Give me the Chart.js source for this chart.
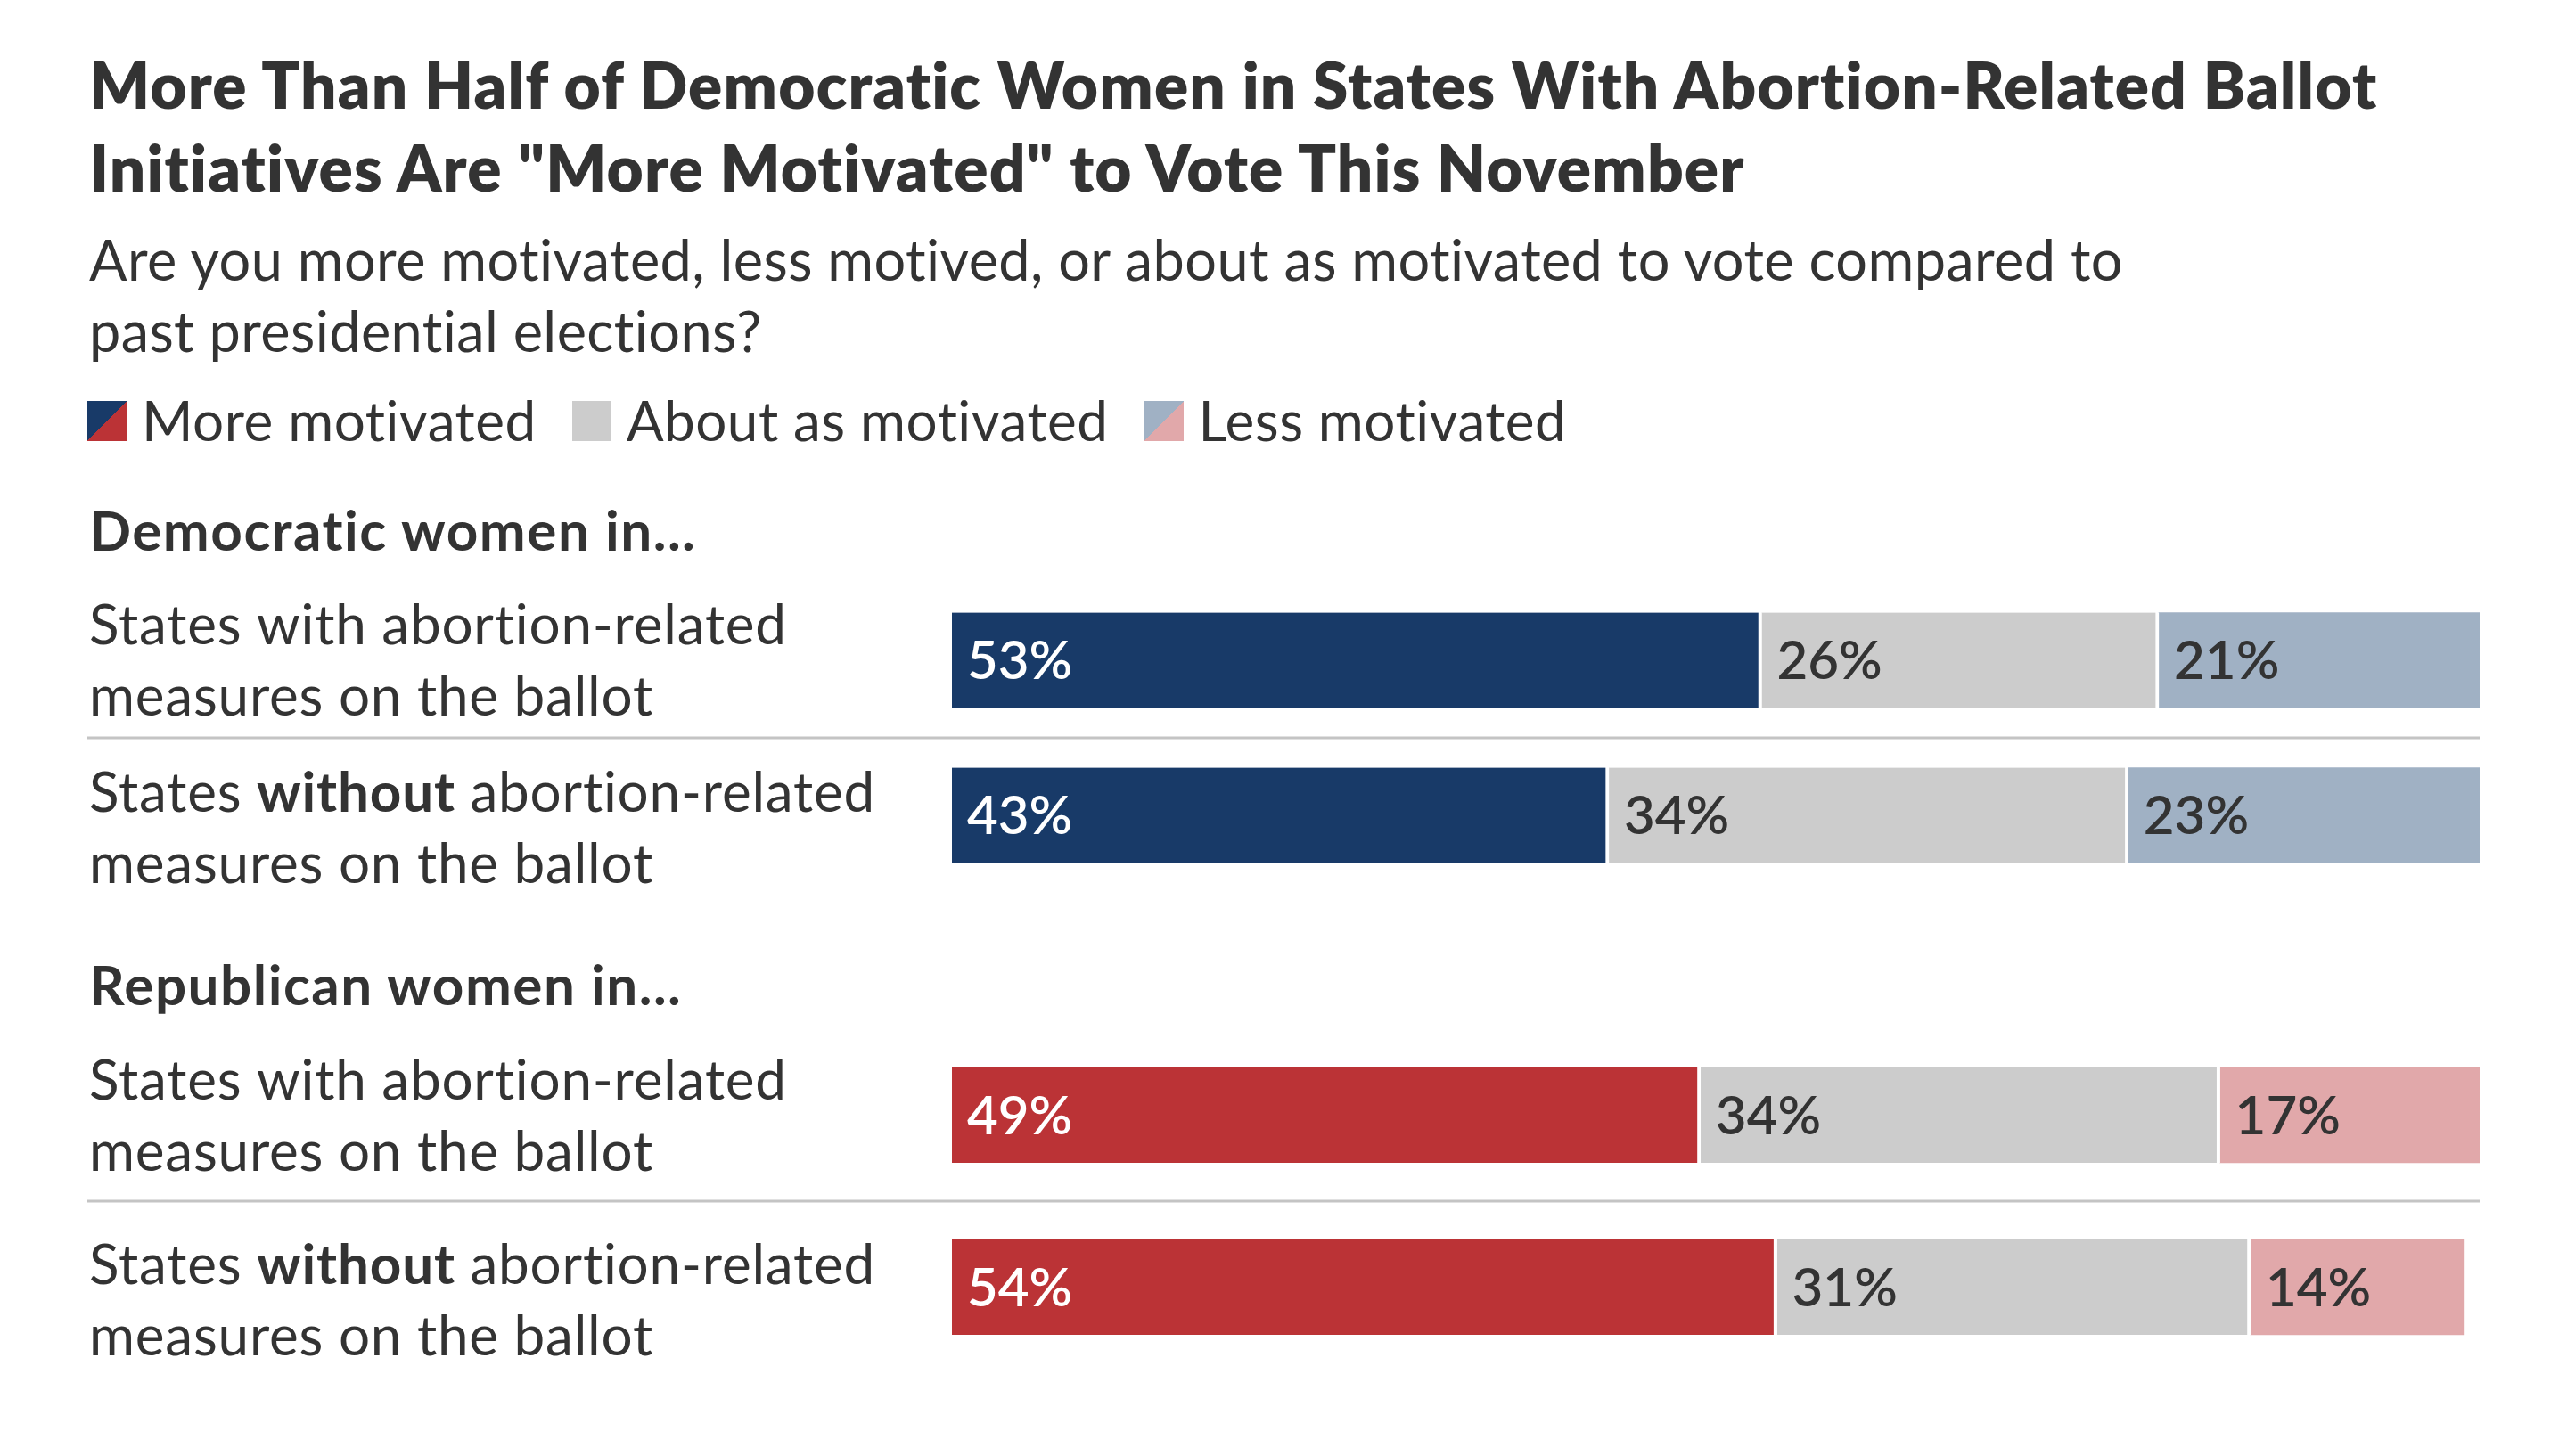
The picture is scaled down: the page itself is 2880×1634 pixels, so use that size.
<!DOCTYPE html>
<html>
<head>
<meta charset="utf-8">
<script src="https://cdn.jsdelivr.net/npm/chart.js@4.4.1/dist/chart.umd.min.js"></script>
<style>
  html, body { margin: 0; padding: 0; background: #fff; }
  body { width: 2880px; height: 1634px; position: relative; overflow: hidden; font-family: Lato, "Noto Sans", sans-serif; color: #333; }
  .title { position: absolute; left: 100px; top: 48px; font-size: 71px; line-height: 93px; font-weight: 800; letter-spacing: 1.2px; white-space: nowrap; }
  .subtitle { position: absolute; left: 100px; top: 251px; font-size: 63px; line-height: 80px; font-weight: 400; letter-spacing: 0.4px; white-space: nowrap; }
  .legend { position: absolute; left: 98px; top: 440px; font-size: 62px; line-height: 62px; letter-spacing: 0.5px; display: flex; white-space: nowrap; }
  .legend .item { margin-right: 40px; }
  .legend .sw { display: inline-block; width: 44px; height: 45px; margin-right: 17px; vertical-align: baseline; }
  .group { position: absolute; left: 100px; font-size: 62px; line-height: 62px; font-weight: 700; letter-spacing: 1.5px; white-space: nowrap; }
  canvas { position: absolute; left: 0; }
</style>
</head>
<body>
<div class="title">More Than Half of Democratic Women in States With Abortion-Related Ballot<br>Initiatives Are "More Motivated" to Vote This November</div>
<div class="subtitle">Are you more motivated, less motived, or about as motivated to vote compared to<br>past presidential elections?</div>
<div class="legend" id="legend"></div>
<div class="group" id="g0" style="top:563px"></div>
<div class="group" id="g1" style="top:1073px"></div>
<canvas id="dem" width="2880" height="348" style="top:654px"></canvas>
<canvas id="rep" width="2880" height="386" style="top:1155px"></canvas>
<script>
// series names and group headers
let series = ["More motivated", "About as motivated", "Less motivated"]
let group_names = ["Democratic women in...", "Republican women in..."]

// row labels, **word** is drawn bold
let row_labels = [
    ["States with abortion-related", "measures on the ballot"],
    ["States **without** abortion-related", "measures on the ballot"]
]

// values in percent
let dem_more = [53, 43]
let dem_about = [26, 34]
let dem_less = [21, 23]
let rep_more = [49, 54]
let rep_about = [34, 31]
let rep_less = [17, 14]

let navy = "#183a68"
let red = "#bb3336"
let gray = "#cccccc"
let light_blue = "#a0b1c4"
let pink = "#e1a8aa"

// legend
let legend = document.getElementById("legend")
let swatches = [
    "linear-gradient(to bottom right, " + navy + " 50%, " + red + " 50%)",
    gray,
    "linear-gradient(to bottom right, " + light_blue + " 50%, " + pink + " 50%)"
]
for (let i = 0; i < series.length; i++) {
    let item = document.createElement("span")
    item.className = "item"
    let sw = document.createElement("span")
    sw.className = "sw"
    sw.style.background = swatches[i]
    item.appendChild(sw)
    item.appendChild(document.createTextNode(series[i]))
    legend.appendChild(item)
}
document.getElementById("g0").textContent = group_names[0]
document.getElementById("g1").textContent = group_names[1]

let font_family = "Lato, 'Noto Sans', sans-serif"

// draws the row labels, the separator line and the values inside the bars
let label_plugin = {
    id: "labels",
    afterDatasetsDraw(chart) {
        let ctx = chart.ctx
        let y_scale = chart.scales.y
        let area = chart.chartArea
        ctx.save()

        // separator between the two rows
        let y_mid = (y_scale.getPixelForValue(0) + y_scale.getPixelForValue(1)) / 2
        ctx.strokeStyle = "#c4c4c4"
        ctx.lineWidth = 3
        ctx.beginPath()
        ctx.moveTo(98, y_mid)
        ctx.lineTo(area.right, y_mid)
        ctx.stroke()

        // row labels (the second row sits a little lower, under the line)
        ctx.fillStyle = "#333"
        ctx.textBaseline = "alphabetic"
        ctx.textAlign = "left"
        ctx.letterSpacing = "0.8px"
        for (let i = 0; i < row_labels.length; i++) {
            let y = y_scale.getPixelForValue(i) + 14 * i
            let lines = row_labels[i]
            for (let j = 0; j < lines.length; j++) {
                let base = y + 22 - 40 * (lines.length - 1) + 80 * j
                let parts = lines[j].split("**")
                let x = 100
                for (let k = 0; k < parts.length; k++) {
                    ctx.font = (k % 2 == 1 ? "700 " : "400 ") + "62px " + font_family
                    ctx.fillText(parts[k], x, base)
                    x += ctx.measureText(parts[k]).width
                }
            }
        }

        // values inside the bars
        ctx.letterSpacing = "0px"
        ctx.font = "600 60px " + font_family
        ctx.textBaseline = "middle"
        chart.data.datasets.forEach((ds, d) => {
            let meta = chart.getDatasetMeta(d)
            meta.data.forEach((bar, i) => {
                ctx.fillStyle = d == 0 ? "#ffffff" : "#333333"
                let left = Math.min(bar.base, bar.x)
                ctx.fillText(ds.data[i] + "%", left + 17, bar.y + 2)
            })
        })
        ctx.restore()
    }
}

function drow_group(canvas_id, more, about, less, main_color, less_color) {
    let labels = row_labels.map((l) => l.join(" ").replace(/\*\*/g, ""))
    return new Chart(document.getElementById(canvas_id), {
        type: "bar",
        data: {
            labels: labels,
            datasets: [
                { label: series[0], data: more, backgroundColor: main_color },
                { label: series[1], data: about, backgroundColor: gray },
                { label: series[2], data: less, backgroundColor: less_color, borderWidth: 0 }
            ]
        },
        options: {
            indexAxis: "y",
            responsive: false,
            animation: false,
            layout: { padding: { left: 1068, right: 98, top: 0, bottom: 0 } },
            datasets: {
                bar: {
                    barThickness: 107,
                    borderColor: "#ffffff",
                    borderWidth: { top: 0, bottom: 0, left: 0, right: 4 },
                    borderSkipped: false
                }
            },
            scales: {
                x: { stacked: true, min: 0, max: 100, display: false },
                y: { stacked: true, display: false }
            },
            plugins: {
                legend: { display: false },
                tooltip: { enabled: false }
            }
        },
        plugins: [label_plugin]
    })
}

drow_group("dem", dem_more, dem_about, dem_less, navy, light_blue)
drow_group("rep", rep_more, rep_about, rep_less, red, pink)
</script>
</body>
</html>
